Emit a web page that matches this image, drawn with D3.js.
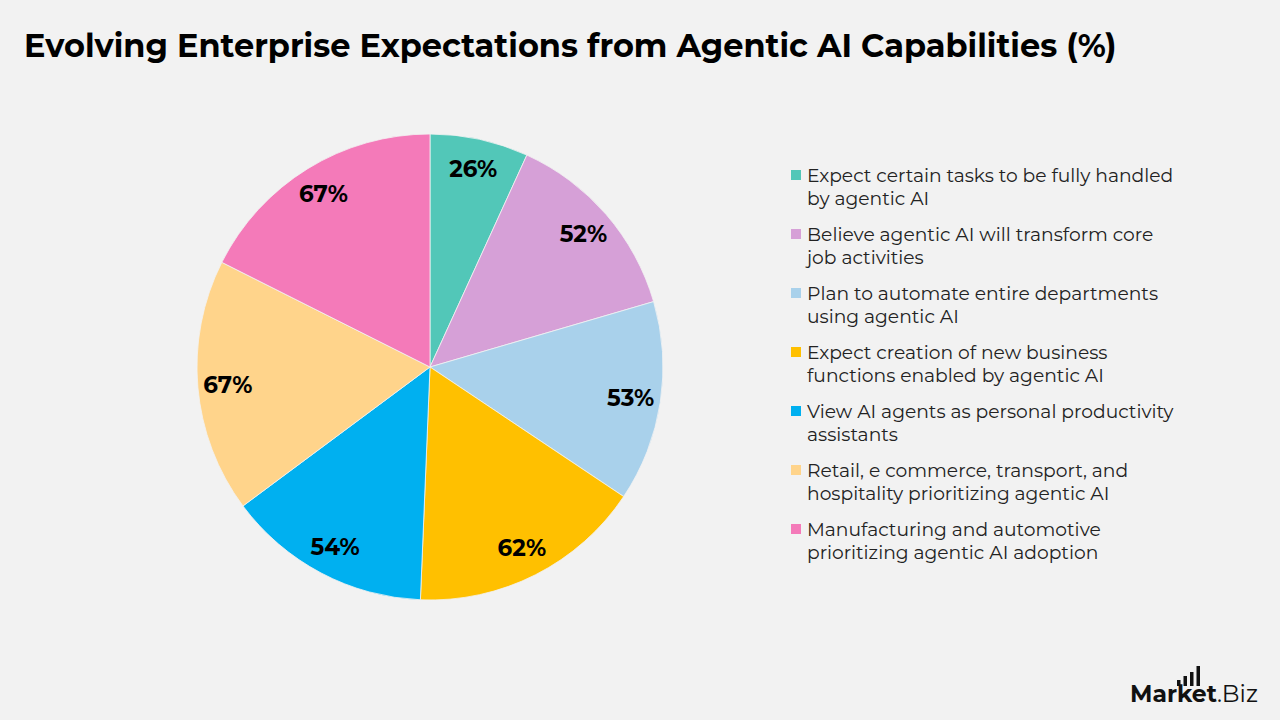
<!DOCTYPE html>
<html>
<head>
<meta charset="utf-8">
<script src="https://cdn.jsdelivr.net/npm/d3@7"></script>
<style>
  body { margin: 0; background: #f2f2f2; }
  svg { display: block; }
</style>
</head>
<body>
<div id="chart"></div>
<script>
// data
const categories = [
  "Expect certain tasks to be fully handled by agentic AI",
  "Believe agentic AI will transform core job activities",
  "Plan to automate entire departments using agentic AI",
  "Expect creation of new business functions enabled by agentic AI",
  "View AI agents as personal productivity assistants",
  "Retail, e commerce, transport, and hospitality prioritizing agentic AI",
  "Manufacturing and automotive prioritizing agentic AI adoption"
];
const values = [26, 52, 53, 62, 54, 67, 67];
const legendLines = [
  ["Expect certain tasks to be fully handled", "by agentic AI"],
  ["Believe agentic AI will transform core", "job activities"],
  ["Plan to automate entire departments", "using agentic AI"],
  ["Expect creation of new business", "functions enabled by agentic AI"],
  ["View AI agents as personal productivity", "assistants"],
  ["Retail, e commerce, transport, and", "hospitality prioritizing agentic AI"],
  ["Manufacturing and automotive", "prioritizing agentic AI adoption"]
];
const colors = ["#52c7b8", "#d6a0d7", "#a9d1eb", "#ffc000", "#00b0f0", "#ffd48b", "#f47ab9"];

const width = 1280, height = 720;
const font = "'Montserrat', 'Inter', 'Noto Sans', sans-serif";

const svg = d3.select("#chart").append("svg")
  .attr("width", width)
  .attr("height", height);

svg.append("rect").attr("width", width).attr("height", height).attr("fill", "#f2f2f2");

// title
svg.append("text")
  .attr("x", 24).attr("y", 57)
  .attr("font-family", font)
  .attr("font-weight", 700)
  .attr("font-size", 32)
  .attr("fill", "#000")
  .text("Evolving Enterprise Expectations from Agentic AI Capabilities (%)");

// pie
const cx = 430, cy = 367, r = 233;
const pie = d3.pie().sort(null).value(d => d);
const arcs = pie(values);
const arc = d3.arc().innerRadius(0).outerRadius(r);
const labelArc = d3.arc().innerRadius(203).outerRadius(203);

const g = svg.append("g").attr("transform", "translate(" + cx + "," + cy + ")");

g.selectAll("path")
  .data(arcs)
  .enter()
  .append("path")
  .attr("d", arc)
  .attr("fill", (d, i) => colors[i])
  .attr("stroke", "#f2f2f2")
  .attr("stroke-width", 0.8);

g.selectAll(".lbl")
  .data(arcs)
  .enter()
  .append("text")
  .attr("class", "lbl")
  .attr("transform", d => "translate(" + labelArc.centroid(d) + ")")
  .attr("text-anchor", "middle")
  .attr("dy", "0.35em")
  .attr("font-family", font)
  .attr("font-weight", 700)
  .attr("font-size", 23)
  .attr("fill", "#000")
  .text(d => d.data + "%");

// legend
const legend = svg.append("g").attr("transform", "translate(791,0)");
const item = legend.selectAll(".item")
  .data(categories)
  .enter()
  .append("g")
  .attr("class", "item")
  .attr("transform", (d, i) => "translate(0," + (175 + i * 59) + ")");

item.append("rect")
  .attr("x", 0).attr("y", -5)
  .attr("width", 10).attr("height", 10)
  .attr("fill", (d, i) => colors[i]);

item.append("text")
  .attr("x", 16)
  .attr("font-family", font)
  .attr("font-size", 18.7)
  .attr("fill", "#222")
  .each(function(d, i) {
    const t = d3.select(this);
    legendLines[i].forEach((line, j) => {
      t.append("tspan")
        .attr("x", 16)
        .attr("y", j * 23)
        .attr("dy", "0.35em")
        .text(line);
    });
  });

// logo
const logo = svg.append("g").attr("transform", "translate(1130,702)");
logo.append("text")
  .attr("font-family", font)
  .attr("font-size", 23.5)
  .attr("fill", "#111")
  .html("<tspan font-weight='700'>Market</tspan><tspan font-weight='400'>.Biz</tspan>");
const bars = [6, 10, 14, 20];
logo.selectAll(".bar")
  .data(bars)
  .enter()
  .append("rect")
  .attr("x", (d, i) => 47 + i * 6.5)
  .attr("y", d => -17 - d + 1)
  .attr("width", 3.5)
  .attr("height", d => d)
  .attr("fill", "#111");
</script>
</body>
</html>
